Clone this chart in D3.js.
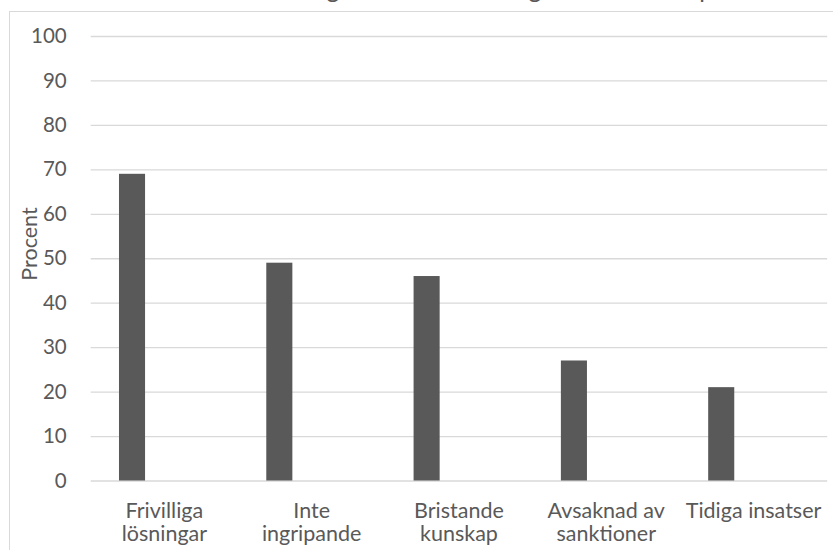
<!DOCTYPE html>
<html>
<head>
<meta charset="utf-8">
<script src="https://cdn.jsdelivr.net/npm/d3@7"></script>
<style>
  html, body { margin: 0; padding: 0; background: #ffffff; }
  svg { display: block; font-family: Lato, "Open Sans", sans-serif; }
</style>
</head>
<body>
<svg id="chart" width="833" height="550"></svg>
<script>
// Category labels, already split into the lines they are shown on
const categories = [
  ["Frivilliga", "lösningar"],
  ["Inte", "ingripande"],
  ["Bristande", "kunskap"],
  ["Avsaknad av", "sanktioner"],
  ["Tidiga insatser"]
];
const categoryKeys = categories.map(c => c.join(" "));
// Share (percent) for each category
const values = [69, 49, 46, 27, 21];
const yTicks = [0, 10, 20, 30, 40, 50, 60, 70, 80, 90, 100];
const yLabel = "Procent";
const title = "Vanliga orsaker till att lagen sällan tillämpas";

const svg = d3.select("#chart");
const textColor = "#595959";
const gridColor = "#d9d9d9";
const barColor = "#595959";

const plot = { left: 90.7, right: 827.2, top: 36, bottom: 480.5 };

// Chart area frame (continues past the right and bottom edges)
svg.append("rect")
  .attr("x", 9.5).attr("y", 11.5)
  .attr("width", 900).attr("height", 600)
  .attr("fill", "none")
  .attr("stroke", gridColor)
  .attr("stroke-width", 1);

// Title sits above the frame
svg.append("text")
  .attr("x", 505)
  .attr("y", -2.5)
  .attr("text-anchor", "middle")
  .attr("fill", textColor)
  .attr("font-size", 24.5)
  .text(title);

const x = d3.scaleBand()
  .domain(categoryKeys)
  .range([plot.left, plot.right])
  .padding(0);

const y = d3.scaleLinear()
  .domain([0, 100])
  .range([plot.bottom, plot.top]);

// Horizontal gridlines and value labels
const yAxis = d3.axisLeft(y)
  .tickValues(yTicks)
  .tickSize(-(plot.right - plot.left))
  .tickPadding(24)
  .tickFormat(d3.format("d"));

const gy = svg.append("g")
  .attr("transform", `translate(${plot.left},0)`)
  .call(yAxis);
gy.select(".domain").remove();
gy.selectAll(".tick line")
  .attr("stroke", gridColor)
  .attr("stroke-width", 1.3);
gy.selectAll(".tick text")
  .attr("fill", textColor)
  .attr("font-size", 20.5)
  .attr("font-family", "Lato, sans-serif");

// Bars, placed inside each category band
const barOffset = 0.192, barWidth = 0.177;
svg.append("g")
  .selectAll("rect")
  .data(values)
  .join("rect")
  .attr("x", (d, i) => x(categoryKeys[i]) + x.bandwidth() * barOffset)
  .attr("width", x.bandwidth() * barWidth)
  .attr("y", d => y(d))
  .attr("height", d => y(0) - y(d))
  .attr("fill", barColor);

// Category labels under the axis
const labels = svg.append("g")
  .selectAll("text")
  .data(categories)
  .join("text")
  .attr("text-anchor", "middle")
  .attr("fill", textColor)
  .attr("font-size", 21.5)
  .attr("transform", (d, i) => `translate(${x(categoryKeys[i]) + x.bandwidth() / 2},518.3)`);
labels.selectAll("tspan")
  .data(d => d)
  .join("tspan")
  .attr("x", 0)
  .attr("y", (d, j) => j * 23)
  .text(d => d);

// Y-axis title
svg.append("text")
  .attr("transform", "translate(37,244) rotate(-90)")
  .attr("text-anchor", "middle")
  .attr("fill", textColor)
  .attr("font-size", 21.5)
  .text(yLabel);
</script>
</body>
</html>
